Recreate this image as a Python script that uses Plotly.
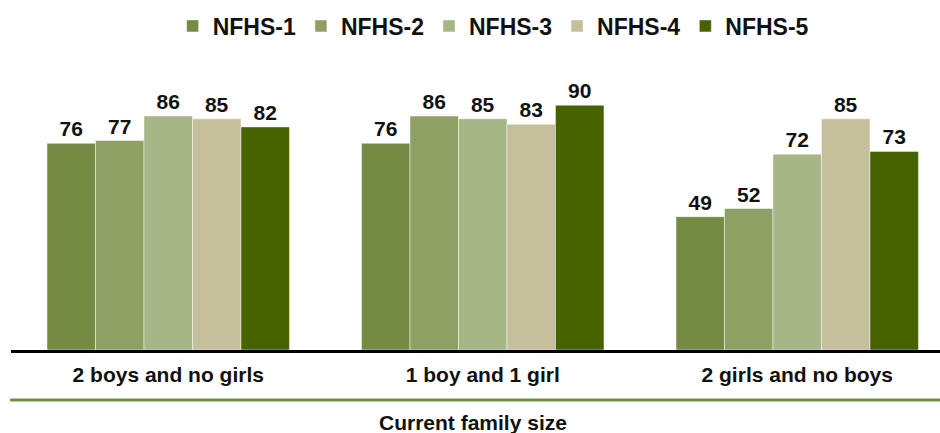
import plotly.graph_objects as go

categories = ["2 boys and no girls", "1 boy and 1 girl", "2 girls and no boys"]
series_names = ["NFHS-1", "NFHS-2", "NFHS-3", "NFHS-4", "NFHS-5"]
nfhs1 = [76, 76, 49]
nfhs2 = [77, 86, 52]
nfhs3 = [86, 85, 72]
nfhs4 = [85, 83, 85]
nfhs5 = [82, 90, 73]
series_values = [nfhs1, nfhs2, nfhs3, nfhs4, nfhs5]
colors = ["#758b44", "#8fa064", "#a6b687", "#c6bf9b", "#466300"]
axis_title = "Current family size"

FONT = "Liberation Sans, Arial, sans-serif"

fig = go.Figure()
for name, vals, col in zip(series_names, series_values, colors):
    fig.add_trace(go.Bar(
        name=name, x=categories, y=vals,
        marker=dict(color=col, line=dict(color="rgba(255,255,255,0.6)", width=0.8)),
        text=[str(v) for v in vals], textposition="outside",
        textfont=dict(family=FONT, size=21, color="#111111", weight="bold"),
        cliponaxis=False,
    ))

W, H = 940, 433
mt, mb = 60, 83
plot_h = H - mt - mb

def py(ypix):
    return (H - mb - ypix) / plot_h

fig.update_layout(
    width=W, height=H,
    margin=dict(l=11, r=0, t=mt, b=mb, autoexpand=False),
    barmode="group", bargap=0.229, bargroupgap=0,
    plot_bgcolor="white", paper_bgcolor="white",
    font=dict(family=FONT, color="#111111"),
    showlegend=True,
    legend=dict(orientation="h", x=0.519, xanchor="center", y=py(26), yanchor="middle",
                font=dict(family=FONT, size=23, color="#111111", weight="bold"),
                itemwidth=30, traceorder="normal", bgcolor="rgba(0,0,0,0)"),
    xaxis=dict(range=[-0.5, 2.454], showline=True, linecolor="black", linewidth=3,
               ticks="", showgrid=False, zeroline=False, ticklabelstandoff=4,
               tickfont=dict(family=FONT, size=21, color="#111111", weight="bold")),
    yaxis=dict(range=[0, 106.6], visible=False, showgrid=False, zeroline=False),
    shapes=[dict(type="line", xref="paper", yref="paper", x0=-0.001, x1=1.0,
                 y0=py(400), y1=py(400), line=dict(color="#6a8f3e", width=3))],
    annotations=[dict(text="<b>" + axis_title + "</b>", xref="paper", yref="paper",
                      x=0.497, y=py(422), xanchor="center", yanchor="middle",
                      showarrow=False, font=dict(family=FONT, size=21, color="#111111"))],
)

fig.write_html("out.html", config={"displayModeBar": False},
               post_script="document.body.style.margin='0';document.body.style.overflow='hidden';")
